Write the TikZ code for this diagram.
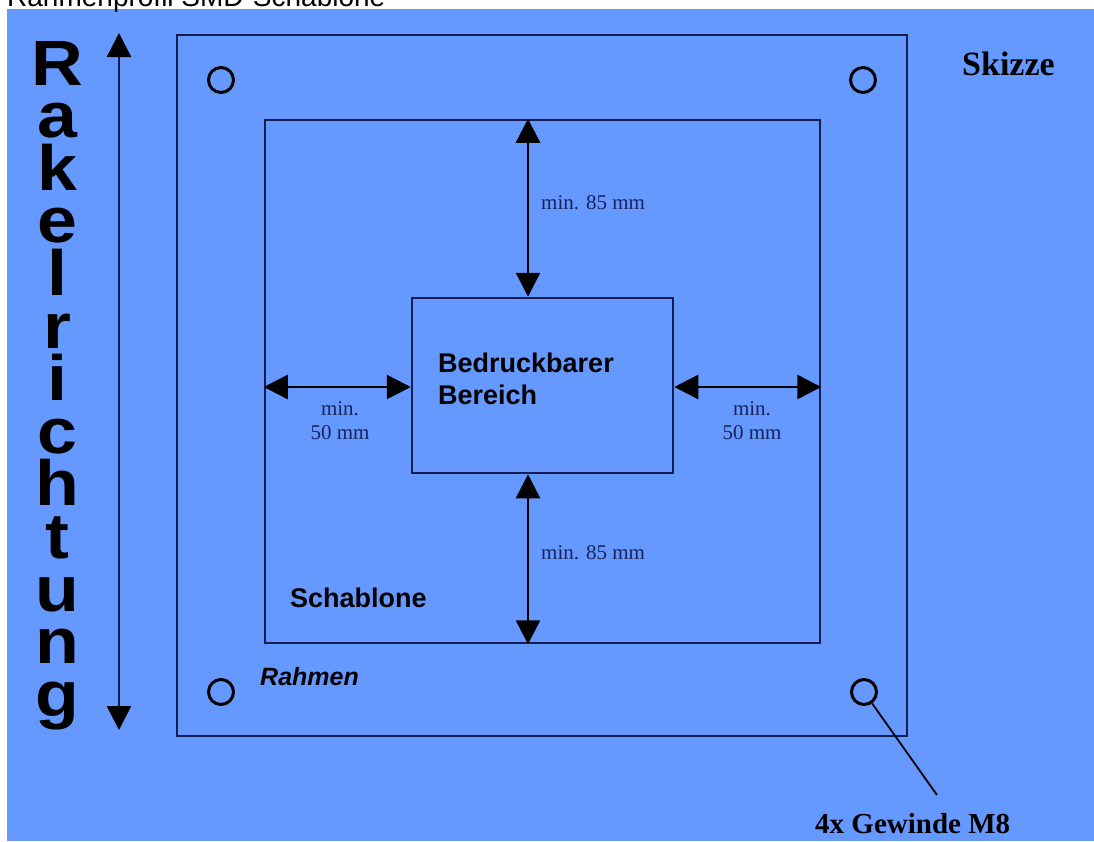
\documentclass[tikz,border=0pt]{standalone}
\usepackage{fontspec}
\setmainfont{Liberation Serif}
\newfontfamily\arialfont{Liberation Sans}
\usepackage{tikz}
\usetikzlibrary{arrows.meta, positioning}
\definecolor{skizzeblue}{RGB}{102,153,255}
\definecolor{framenavy}{RGB}{20,28,80}
\definecolor{labelnavy}{RGB}{25,35,90}
\tikzset{
  box/.style={rectangle, draw=framenavy, line width=2.5pt, inner sep=0pt},
  hole/.style={circle, draw=black, line width=3pt, minimum size=25pt, inner sep=0pt},
  dimarrow/.style={{Triangle[length=24pt,width=24pt]}-{Triangle[length=24pt,width=24pt]},
    line width=2.5pt, color=black},
  rakelarrow/.style={{Triangle[length=24pt,width=24pt,color=black]}-{Triangle[length=24pt,width=24pt,color=black]},
    line width=2.5pt, color=framenavy},
  dimlabel/.style={font=\fontsize{21}{24}\selectfont, text=labelnavy, align=center, inner sep=0pt},
  bigsans/.style={font=\arialfont\bfseries\fontsize{27}{32}\selectfont, align=left, inner sep=0pt},
  bigserif/.style={font=\bfseries\fontsize{30}{34}\selectfont, inner sep=0pt},
  rakelletter/.style={font=\arialfont\bfseries\fontsize{64}{64}\selectfont, inner sep=0pt,
    text height=38pt, text depth=0pt}
}

\begin{document}
\begin{tikzpicture}[x=1pt, y=-1pt]
  \useasboundingbox (0,0) rectangle (1094,841);
  \clip (0,0) rectangle (1094,841);
  \fill[white] (0,0) rectangle (1094,841);
  \fill[skizzeblue] (7,9) rectangle (1094,841);

  % title, cut off at the top edge
  \node[anchor=base west, inner sep=0pt, font=\arialfont\fontsize{28}{28}\selectfont] (titel) at (7,6) {Rahmenprofil SMD-Schablone};

  % frame, stencil, printable area
  \node[box, minimum width=730pt, minimum height=701pt] (rahmen) at (542,385.5) {};
  \node[box, minimum width=555pt, minimum height=523pt] (schab) at (542.5,381.5) {};
  \node[box, minimum width=261pt, minimum height=175pt] (druck) at (542.5,385.5) {};

  % threaded holes
  \node[hole] (h1) at (221,80) {};
  \node[hole] (h2) at (863,80) {};
  \node[hole] (h3) at (221,692) {};
  \node[hole] (h4) at (864,692) {};

  % dimension arrows
  \coordinate (va) at (528,0);
  \coordinate (ha) at (0,387);
  \draw[dimarrow] (schab.north -| va) -- (druck.north -| va);
  \draw[dimarrow] (druck.south -| va) -- (schab.south -| va);
  \draw[dimarrow] (schab.west |- ha) -- (druck.west |- ha);
  \draw[dimarrow] (druck.east |- ha) -- (schab.east |- ha);

  \node[dimlabel, anchor=base west] (oben) at (541,209) {min. 85 mm};
  \node[dimlabel, anchor=base west] (unten) at (541,559) {min. 85 mm};
  \node[dimlabel, anchor=base] (links) at (340,439) {min.\\50 mm};
  \node[dimlabel, anchor=base] (rechts) at (752,439) {min.\\50 mm};

  % labels
  \node[bigsans, anchor=north west] (bereich) at (438,353) {Bedruckbarer\\Bereich};
  \node[bigsans, anchor=base west] (schabname) at (290,607) {Schablone};
  \node[bigsans, anchor=base west, font=\arialfont\bfseries\itshape\fontsize{25}{30}\selectfont] (rahmenname) at (260,685) {Rahmen};
  \node[bigserif, anchor=base west, font=\bfseries\fontsize{34}{34}\selectfont] (skizze) at (962,75) {Skizze};
  \node[bigserif, anchor=base west, font=\bfseries\fontsize{29}{29}\selectfont] (gewinde) at (815,833) {4x Gewinde M8};

  % leader to thread
  \coordinate (lead) at (937,795);
  \draw[line width=1.8pt, black] (h4) -- (lead);

  % squeegee direction
  \foreach \ch [count=\i] in {R,a,k,e,l,r,i,c,h,t,u,n,g}
    \node[rakelletter, anchor=base] (rk\i) at (57.5,{85+(\i-1)*52.6}) {\scalebox{1.12}[1]{\ch}};
  \coordinate (rtop) at (119,33);
  \coordinate (rbot) at (119,730);
  \draw[rakelarrow] (rtop) -- (rbot);
\end{tikzpicture}
\end{document}
